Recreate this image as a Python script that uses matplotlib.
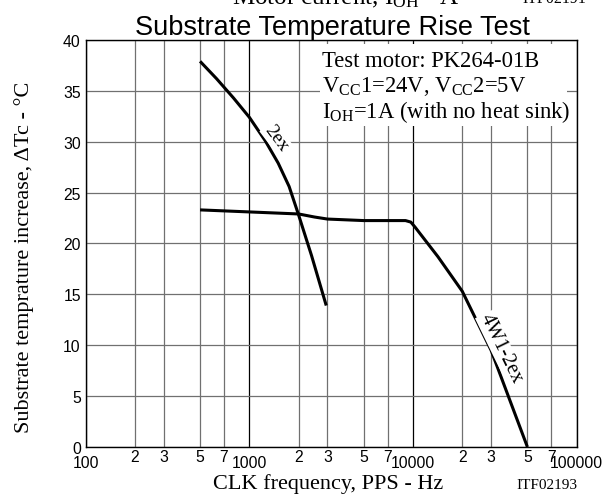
import matplotlib
matplotlib.use("Agg")
import matplotlib.pyplot as plt
from matplotlib.ticker import FixedLocator, FixedFormatter

plt.rcParams["mathtext.fontset"] = "custom"
plt.rcParams["mathtext.rm"] = "Liberation Serif"
plt.rcParams["mathtext.it"] = "Liberation Serif:italic"

SANS = "Liberation Sans"
SERIF = "Liberation Serif"

# 2ex excitation curve (CLK frequency in PPS, temperature rise in degC)
freq_2ex = [500, 630, 800, 1000, 1250, 1500, 1750, 2000, 2400, 2950]
rise_2ex = [37.9, 36.2, 34.3, 32.4, 30.1, 27.9, 25.6, 22.8, 18.8, 13.9]

# 4W1-2ex excitation curve
freq_4w = [500, 1000, 2000, 2500, 3000, 5000, 9000, 9700, 10300, 14200, 20000, 30000, 50000]
rise_4w = [23.3, 23.1, 22.9, 22.6, 22.4, 22.25, 22.25, 22.1, 21.6, 18.7, 15.3, 9.5, 0.0]

x_major = [100, 1000, 10000, 100000]
x_major_labels = ["100", "1000", "10000", "100000"]
x_minor = [200, 300, 500, 700, 2000, 3000, 5000, 7000, 20000, 30000, 50000, 70000]
x_minor_labels = ["2", "3", "5", "7"] * 3
y_ticks = [0, 5, 10, 15, 20, 25, 30, 35, 40]

fig = plt.figure(figsize=(6.06, 5.02), dpi=100)
ax = fig.add_axes([0.1414, 0.1076, 0.8102, 0.8108])
ax.set_xscale("log")
ax.set_xlim(100, 100000)
ax.set_ylim(0, 40)

ax.xaxis.set_major_locator(FixedLocator(x_major))
ax.xaxis.set_major_formatter(FixedFormatter(x_major_labels))
ax.xaxis.set_minor_locator(FixedLocator(x_minor))
ax.xaxis.set_minor_formatter(FixedFormatter(x_minor_labels))
ax.set_yticks(y_ticks)
ax.set_yticklabels([str(v) for v in y_ticks])

ax.tick_params(axis="x", which="major", length=0, pad=6, labelsize=11.3)
ax.tick_params(axis="x", which="minor", length=0, pad=1.5, labelsize=11.3)
ax.tick_params(axis="y", length=0, pad=3.5, labelsize=11.3)
for lab in ax.get_xticklabels(which="both") + ax.get_yticklabels():
    lab.set_fontfamily(SANS)

grid_gray = "#707070"
ax.xaxis.grid(True, which="major", color="black", linewidth=0.9)
ax.xaxis.grid(True, which="minor", color=grid_gray, linewidth=0.9)
ax.yaxis.grid(True, which="major", color=grid_gray, linewidth=0.9)
ax.set_axisbelow(True)
for sp in ax.spines.values():
    sp.set_linewidth(1.0)
    sp.set_color("black")

ax.plot(freq_2ex, rise_2ex, color="black", linewidth=2.2, solid_capstyle="butt",
        solid_joinstyle="round", zorder=3)
ax.plot(freq_4w, rise_4w, color="black", linewidth=2.2, solid_capstyle="butt",
        solid_joinstyle="round", zorder=3)

white = dict(facecolor="white", edgecolor="none", pad=0.5)
ax.text(1450, 30.4, "2ex", rotation=-53, ha="center", va="center",
        fontsize=14, fontfamily=SERIF, bbox=white, zorder=4)
ax.text(34400, 9.7, "4W1-2ex", rotation=-64, ha="center", va="center",
        fontsize=14.5, fontfamily=SERIF, bbox=white, zorder=4)

# condition box in the upper right corner
ax.add_patch(plt.Rectangle((0.477, 0.789), 0.503, 0.201, transform=ax.transAxes,
                           facecolor="white", edgecolor="none", zorder=2))
info = ["Test motor: PK264-01B",
        r"V$_{\mathrm{CC}}$1=24V, V$_{\mathrm{CC}}$2=5V",
        r"I$_{\mathrm{OH}}$=1A (with no heat sink)"]
baselines_px = [67, 92.5, 118]
for line, yb in zip(info, baselines_px):
    ax.text((322 - 85.7) / 491, (448 - yb) / 407, line, transform=ax.transAxes,
            ha="left", va="baseline", fontsize=16.3, fontfamily=SERIF, zorder=5)

fig.text(332 / 606, 1 - 35 / 502, "Substrate Temperature Rise Test", ha="center",
         va="baseline", fontsize=19.5, fontfamily=SANS)
fig.text(232 / 606, 1 - 4 / 502, r"Motor current, I$_{\mathrm{OH}}$ - A", ha="left",
         va="baseline", fontsize=18, fontfamily=SERIF)
fig.text(522 / 606, 1 - 3 / 502, "ITF02191", ha="left", va="baseline",
         fontsize=11.5, fontfamily=SERIF)

fig.text(328 / 606, 1 - 489 / 502, "CLK frequency, PPS - Hz", ha="center",
         va="baseline", fontsize=16, fontfamily=SERIF)
fig.text(516 / 606, 1 - 489 / 502, "ITF02193", ha="left", va="baseline",
         fontsize=11, fontfamily=SERIF)
fig.text(24 / 606, 1 - 257 / 502, "Substrate temprature increase, \u0394Tc - \u00b0C",
         rotation=90, ha="center", va="center", fontsize=16, fontfamily=SERIF)

fig.savefig("out.png", dpi=100)
